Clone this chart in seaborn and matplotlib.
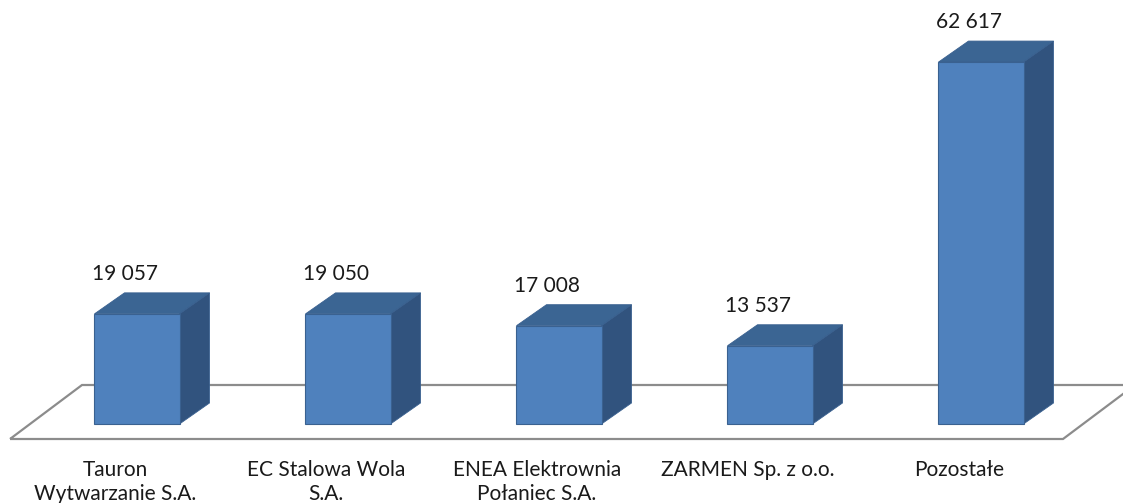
import numpy as np
import pandas as pd
import matplotlib
matplotlib.use("Agg")
import matplotlib.pyplot as plt
from matplotlib.patches import Polygon
import seaborn as sns

categories = ["Tauron\nWytwarzanie S.A.", "EC Stalowa Wola\nS.A.",
              "ENEA Elektrownia\nPołaniec S.A.", "ZARMEN Sp. z o.o.", "Pozostałe"]
values = [19057, 19050, 17008, 13537, 62617]

front = "#4f81bd"
top_c = "#3b6593"
side_c = "#31537e"
edge = "#3a6190"

sns.set_theme(style="white")
plt.rcParams["font.family"] = ["Lato", "DejaVu Sans"]

df = pd.DataFrame({"cat": categories, "val": values})

fig = plt.figure(figsize=(11.23, 5.03), dpi=100)
ax = fig.add_axes([0, 0, 1, 1])

sns.barplot(data=df, x="cat", y="val", color=front, saturation=1, width=0.403,
            edgecolor=edge, linewidth=0.8, ax=ax, zorder=3)

# pixel -> data scale
px_x = 1 / 211.0
px_y = 1000 / 5.78
ax.set_xlim(-137 * px_x, (1123 - 137) * px_x)
ax.set_ylim(-79 * px_y, 424 * px_y)

dx, dy = 30 * px_x, 21 * px_y

# floor outline
fdx, fdy = 72 * px_x, 54 * px_y
f0x, f1x = -127 * px_x, 926 * px_x
f0y = -15 * px_y
floor = Polygon([(f0x, f0y), (f1x, f0y), (f1x + fdx, f0y + fdy), (f0x + fdx, f0y + fdy)],
                closed=True, fill=False, edgecolor="#8c8c8c", linewidth=1.6, zorder=1)
ax.add_patch(floor)

for i, p in enumerate(ax.patches):
    if p is floor:
        continue
    x0 = p.get_x()
    x1 = x0 + p.get_width()
    h = p.get_height()
    top = Polygon([(x0, h), (x0 + dx, h + dy), (x1 + dx, h + dy), (x1, h)],
                  closed=True, facecolor=top_c, edgecolor=edge, linewidth=0.6, zorder=2)
    side = Polygon([(x1, 0), (x1 + dx, dy), (x1 + dx, h + dy), (x1, h)],
                   closed=True, facecolor=side_c, edgecolor=edge, linewidth=0.6, zorder=2)
    ax.add_patch(top)
    ax.add_patch(side)

for i, v in enumerate(values):
    lab = f"{v:,}".replace(",", " ")
    ax.text(i - 12 * px_x, v + dy + 19 * px_y, lab, ha="center", va="center",
            fontsize=15, color="#1a1a1a")
    ax.text(i - 22 * px_x, -36 * px_y, categories[i], ha="center", va="top",
            fontsize=15, color="#1a1a1a", linespacing=1.25)

ax.axis("off")
fig.savefig("out.png", dpi=100)
